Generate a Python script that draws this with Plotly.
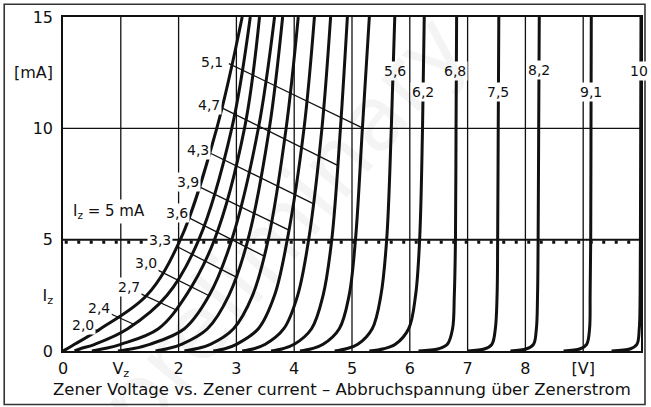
import plotly.graph_objects as go

# ---- data ----
currents = [0, 0.1, 0.3, 1, 2.5, 5, 10, 15]  # mA levels
curve_names = ["2,0", "2,4", "2,7", "3,0", "3,3", "3,6", "3,9", "4,3", "4,7",
               "5,1", "5,6", "6,2", "6,8", "7,5", "8,2", "9,1", "10"]
v_2_0 = [0.00, 0.07, 0.20, 0.65, 1.45, 2.03, 2.66, 3.10]
v_2_4 = [0.20, 0.30, 0.55, 1.12, 1.80, 2.35, 2.92, 3.24]
v_2_7 = [0.50, 0.70, 1.00, 1.65, 2.13, 2.62, 3.14, 3.40]
v_3_0 = [0.95, 1.20, 1.50, 2.10, 2.53, 2.92, 3.38, 3.66]
v_3_3 = [1.60, 1.80, 2.05, 2.50, 2.87, 3.20, 3.57, 3.80]
v_3_6 = [2.10, 2.30, 2.55, 2.95, 3.28, 3.55, 3.86, 4.07]
v_3_9 = [2.60, 2.80, 3.00, 3.38, 3.66, 3.88, 4.17, 4.35]
v_4_3 = [3.10, 3.30, 3.50, 3.82, 4.06, 4.25, 4.48, 4.63]
v_4_7 = [3.60, 3.80, 4.00, 4.30, 4.50, 4.65, 4.80, 4.92]
v_5_1 = [4.10, 4.30, 4.50, 4.78, 4.95, 5.06, 5.18, 5.30]
v_5_6 = [4.70, 4.90, 5.10, 5.35, 5.50, 5.60, 5.68, 5.74]
v_6_2 = [5.30, 5.55, 5.75, 5.98, 6.10, 6.17, 6.22, 6.25]
v_6_8 = [6.15, 6.50, 6.65, 6.74, 6.77, 6.79, 6.80, 6.81]
v_7_5 = [7.00, 7.30, 7.42, 7.48, 7.51, 7.52, 7.53, 7.54]
v_8_2 = [7.74, 8.02, 8.14, 8.19, 8.21, 8.22, 8.23, 8.24]
v_9_1 = [8.66, 8.95, 9.06, 9.11, 9.12, 9.13, 9.135, 9.14]
v_10 = [9.49, 9.82, 9.93, 9.97, 9.985, 9.99, 9.995, 10.00]
curve_volts = [v_2_0, v_2_4, v_2_7, v_3_0, v_3_3, v_3_6, v_3_9, v_4_3, v_4_7,
               v_5_1, v_5_6, v_6_2, v_6_8, v_7_5, v_8_2, v_9_1, v_10]

x_tickvals = [0, 1, 2, 3, 4, 5, 6, 7, 8, 9, 10]
x_ticktext = ["0", "V<sub>z</sub>", "2", "3", "4", "5", "6", "7", "8", "[V]", "10"]
y_tickvals = [0, 2.5, 5, 10, 12.5, 15]
y_ticktext = ["0", "I<sub>z</sub>", "5", "10", "[mA]", "15"]

iz_level = 5  # mA reference line

# label placement (data coords)
label_v = [0.345, 0.62, 1.14, 1.43, 1.68, 1.97, 2.16, 2.34, 2.53, 2.57,
           5.74, 6.22, 6.79, 7.53, 8.23, 9.13, 9.97]
label_i = [1.17, 1.93, 2.87, 3.94, 4.98, 6.19, 7.60, 9.02, 11.04, 12.97,
           12.56, 11.63, 12.56, 11.63, 12.61, 11.63, 12.56]
# leader lines for the left-hand labels
lead_v0 = [0.54, 0.84, 1.33, 1.64, 1.98, 2.19, 2.36, 2.56, 2.74, 2.87]
lead_i0 = [0.97, 1.65, 2.59, 3.63, 4.68, 5.97, 7.37, 8.87, 10.93, 12.91]
lead_v1 = [0.626, 1.224, 1.96, 2.53, 2.99, 3.48, 3.91, 4.32, 4.75, 5.18]
lead_i1 = [0.87, 1.20, 1.84, 2.48, 3.33, 4.26, 5.43, 6.63, 8.34, 10.02]

FONT = "DejaVu Sans"
INK = "#111111"

fig = go.Figure()
for name, volts in zip(curve_names, curve_volts):
    fig.add_trace(go.Scatter(
        x=volts, y=currents, mode="lines", name=name,
        line=dict(color=INK, width=3, shape="spline", smoothing=1),
        hoverinfo="skip", showlegend=False))

shapes = []
# vertical grid
for xv in x_tickvals[1:-1]:
    shapes.append(dict(type="line", xref="x", yref="y", x0=xv, x1=xv, y0=0, y1=15,
                       line=dict(color=INK, width=1.3), layer="below"))
# horizontal grid at 10
shapes.append(dict(type="line", xref="x", yref="y", x0=0, x1=10, y0=10, y1=10,
                   line=dict(color=INK, width=1.3), layer="below"))
# 5 mA reference line (solid + square dots)
shapes.append(dict(type="line", xref="x", yref="y", x0=0, x1=10, y0=iz_level, y1=iz_level,
                   line=dict(color=INK, width=2), layer="below"))
shapes.append(dict(type="line", xref="x", yref="y", x0=0.03, x1=10, y0=iz_level - 0.11,
                   y1=iz_level - 0.11,
                   line=dict(color=INK, width=3.2, dash="3px,9.5px"), layer="below"))
# leader lines
for a, b, c, d in zip(lead_v0, lead_i0, lead_v1, lead_i1):
    shapes.append(dict(type="line", xref="x", yref="y", x0=a, y0=b, x1=c, y1=d,
                       line=dict(color=INK, width=1.3)))
# outer frame
shapes.append(dict(type="rect", xref="paper", yref="paper", x0=-0.1017, x1=1.0069,
                   y0=-0.16, y1=1.038, line=dict(color="#333333", width=1.6)))

annotations = []
for t, xv, yv in zip(curve_names, label_v, label_i):
    annotations.append(dict(x=xv, y=yv, xref="x", yref="y", text=t, showarrow=False,
                            font=dict(family=FONT, size=14, color=INK),
                            bgcolor="white", borderpad=1))
annotations.append(dict(x=0.79, y=6.25, xref="x", yref="y",
                        text="I<sub>z</sub> = 5 mA", showarrow=False,
                        font=dict(family=FONT, size=15, color=INK),
                        bgcolor="white", borderpad=2))
annotations.append(dict(x=0.482, y=-0.1167, xref="paper", yref="paper",
                        text="Zener Voltage vs. Zener current \u2013 Abbruchspannung \u00fcber Zenerstrom",
                        showarrow=False, xanchor="center", yanchor="middle",
                        font=dict(family=FONT, size=16.5, color=INK)))
# faint watermark
annotations.append(dict(x=0.74, y=0.38, xref="paper", yref="paper", text="preliminary",
                        showarrow=False, textangle=-50,
                        font=dict(family=FONT, size=90, color="rgba(0,0,0,0.045)")))

fig.update_layout(
    width=651, height=407,
    margin=dict(l=63, r=8, t=17, b=56),
    paper_bgcolor="white", plot_bgcolor="white",
    shapes=shapes, annotations=annotations,
    font=dict(family=FONT, size=16, color=INK),
    xaxis=dict(range=[0, 10], tickvals=x_tickvals, ticktext=x_ticktext,
               showgrid=False, zeroline=False, showline=True, linecolor=INK,
               linewidth=1.5, mirror=True, ticks="", tickfont=dict(size=16),
               ticklabelstandoff=2, fixedrange=True),
    yaxis=dict(range=[0, 15], tickvals=y_tickvals, ticktext=y_ticktext,
               showgrid=False, zeroline=False, showline=True, linecolor=INK,
               linewidth=1.5, mirror=True, ticks="", tickfont=dict(size=16),
               ticklabelstandoff=5, fixedrange=True),
)

fig.write_html("out.html", config={"displayModeBar": False},
               post_script="document.body.style.margin='0';document.body.style.overflow='hidden';")
